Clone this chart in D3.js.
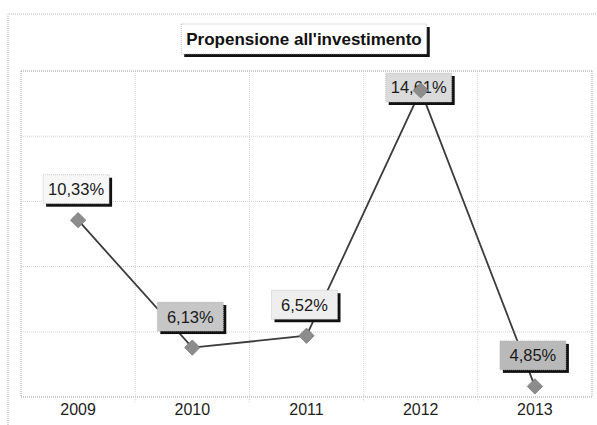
<!DOCTYPE html>
<html>
<head>
<meta charset="utf-8">
<script src="https://cdn.jsdelivr.net/npm/d3@7/dist/d3.min.js"></script>
<style>
  html, body { margin: 0; padding: 0; background: #fff; }
  svg { display: block; font-family: Arial, "Liberation Sans", sans-serif; }
</style>
</head>
<body>
<svg id="chart" width="597" height="425"></svg>
<script>
// Data
const years = ["2009", "2010", "2011", "2012", "2013"];
const values = [10.33, 6.13, 6.52, 14.61, 4.85];
const chartTitle = "Propensione all'investimento";

// Label box fills per point
const labelFills = ["#f7f7f7", "#c6c6c6", "#eeeeee", "#dadada", "#b9b9b9"];

const svg = d3.select("#chart");
const W = 597, H = 425;
const plot = { left: 21, top: 71, right: 592, bottom: 397 };

const it = d3.formatLocale({ decimal: ",", thousands: ".", grouping: [3], currency: ["€", ""] });
const fmt = v => it.format(".2f")(v) + "%";

const x = d3.scaleBand().domain(years).range([plot.left, plot.right]).padding(0);
const yMin = 4.5, yMax = 15.25;
const y = d3.scaleLinear().domain([yMin, yMax]).range([plot.bottom, plot.top]);

// Outer chart frame (dotted)
svg.append("path")
  .attr("d", `M8,${H} L8,14 L${W},14`)
  .attr("fill", "none").attr("stroke", "#b5b5b5").attr("stroke-width", 1)
  .attr("stroke-dasharray", "1,1");

// Horizontal gridlines
const gridVals = d3.range(0, 6).map(i => yMin + i * (yMax - yMin) / 5);
svg.append("g").selectAll("line").data(gridVals).join("line")
  .attr("x1", plot.left).attr("x2", plot.right)
  .attr("y1", d => y(d)).attr("y2", d => y(d))
  .attr("stroke", (d, i) => (i === 0 || i === 5) ? "#9a9a9a" : "#d0d0d0")
  .attr("stroke-width", 1)
  .attr("stroke-dasharray", "1,1");

// Vertical gridlines at category boundaries
const bounds = years.map(d => x(d)).concat([plot.right]);
svg.append("g").selectAll("line").data(bounds).join("line")
  .attr("x1", d => d).attr("x2", d => d)
  .attr("y1", plot.top).attr("y2", (d, i) => (i === 0 || i === bounds.length - 1) ? plot.bottom : plot.bottom + 6)
  .attr("stroke", (d, i) => (i === 0 || i === bounds.length - 1) ? "#a8a8a8" : "#d4d4d4")
  .attr("stroke-width", 1)
  .attr("stroke-dasharray", "1,1");

// X axis labels
const xAxis = d3.axisBottom(x).tickSize(0).tickPadding(7);
const gx = svg.append("g").attr("transform", `translate(0,${plot.bottom})`).call(xAxis);
gx.select(".domain").remove();
gx.selectAll("text").attr("font-size", 16).attr("fill", "#1e1e1e")
  .attr("font-family", "Arial, 'Liberation Sans', sans-serif");

// Line
const cx = d => x(d) + x.bandwidth() / 2;
svg.append("path")
  .datum(values)
  .attr("d", d3.line().x((d, i) => cx(years[i])).y(d => y(d)))
  .attr("fill", "none").attr("stroke", "#3c3c3c").attr("stroke-width", 1.8);

// Diamond markers
const marker = d3.symbol().type(d3.symbolDiamond2).size(150);
svg.append("g").selectAll("path").data(values).join("path")
  .attr("transform", (d, i) => `translate(${cx(years[i])},${y(d)})`)
  .attr("d", marker)
  .attr("fill", "#8c8c8c").attr("stroke", "#7a7a7a").attr("stroke-width", 0.8);

// Data labels with drop shadow
const boxW = 66, boxH = 29, shadow = 3;
const labels = svg.append("g").selectAll("g").data(values).join("g")
  .attr("transform", (d, i) => {
    let cy = y(d) - 31;
    cy = Math.max(cy, plot.top + 2 + boxH / 2);
    return `translate(${cx(years[i]) - 2},${cy})`;
  });
labels.append("rect")
  .attr("x", -boxW / 2 + shadow).attr("y", -boxH / 2 + shadow)
  .attr("width", boxW).attr("height", boxH).attr("fill", "#111");
labels.append("rect")
  .attr("x", -boxW / 2).attr("y", -boxH / 2)
  .attr("width", boxW).attr("height", boxH)
  .attr("fill", (d, i) => labelFills[i])
  .attr("stroke", "#bdbdbd").attr("stroke-width", 0.8).attr("stroke-dasharray", "1,1");
labels.append("text")
  .attr("text-anchor", "middle").attr("dy", "0.36em")
  .attr("font-size", 16.5).attr("fill", "#1a1a1a")
  .text(d => fmt(d));

// The peak marker sits over its label box
const peak = values.indexOf(d3.max(values));
svg.append("path")
  .attr("transform", `translate(${cx(years[peak])},${y(values[peak])})`)
  .attr("d", marker)
  .attr("fill", "#8c8c8c").attr("stroke", "#7a7a7a").attr("stroke-width", 0.8);

// Title box
const title = svg.append("g").attr("transform", "translate(304,39)");
const tText = title.append("text")
  .attr("text-anchor", "middle").attr("dy", "0.36em")
  .attr("font-size", 17).attr("font-weight", "bold").attr("fill", "#111")
  .text(chartTitle);
const tw = tText.node().getComputedTextLength() + 10, th = 30;
title.insert("rect", "text")
  .attr("x", -tw / 2 + 3).attr("y", -th / 2 + 3).attr("width", tw).attr("height", th).attr("fill", "#111");
title.insert("rect", "text")
  .attr("x", -tw / 2).attr("y", -th / 2).attr("width", tw).attr("height", th)
  .attr("fill", "#fff").attr("stroke", "#b0b0b0").attr("stroke-width", 0.8).attr("stroke-dasharray", "1,1");
</script>
</body>
</html>
